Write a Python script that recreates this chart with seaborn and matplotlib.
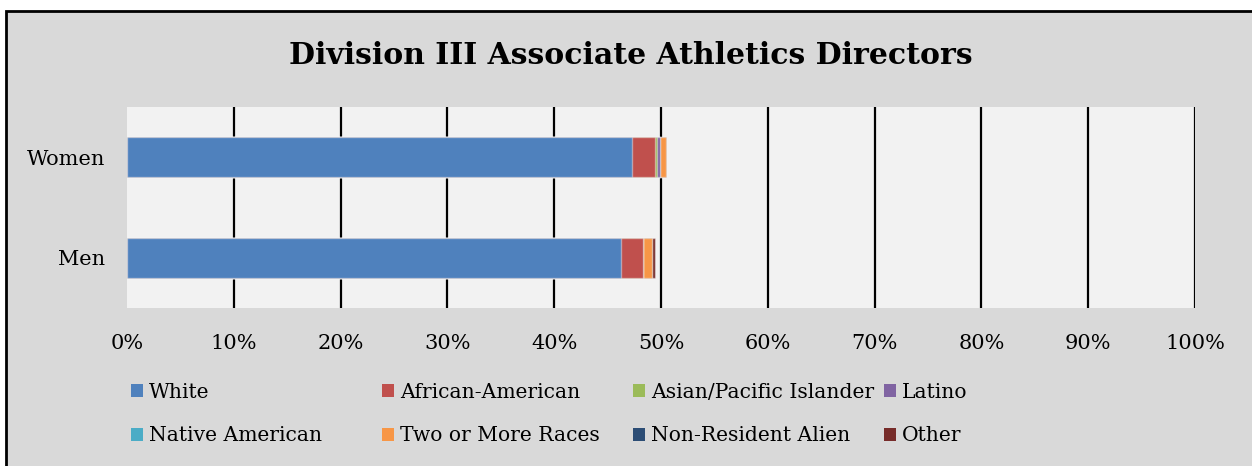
import numpy as np
import pandas as pd
import matplotlib
matplotlib.use("Agg")
import matplotlib.pyplot as plt
from matplotlib.patches import Rectangle, Patch
import seaborn as sns

groups = ["Women", "Men"]
races = ["White", "African-American", "Asian/Pacific Islander", "Latino",
         "Native American", "Two or More Races", "Non-Resident Alien", "Other"]
women_pct = [47.3, 2.1, 0.25, 0.25, 0.0, 0.55, 0.0, 0.0]
men_pct = [46.25, 2.05, 0.0, 0.0, 0.0, 0.85, 0.0, 0.3]
colors = ["#4F81BD", "#C0504D", "#9BBB59", "#8064A2",
          "#4BACC6", "#F79646", "#2C4D75", "#772C2A"]
tick_vals = [0, 10, 20, 30, 40, 50, 60, 70, 80, 90, 100]
title = "Division III Associate Athletics Directors"

sns.set_theme(style="white")
plt.rcParams["font.family"] = ["DejaVu Serif"]
plt.rcParams["text.color"] = "black"
plt.rcParams["xtick.color"] = "black"
plt.rcParams["ytick.color"] = "black"

W, H = 1252, 466
fig = plt.figure(figsize=(W / 100, H / 100), dpi=100, facecolor="white")

# outer chart frame
fig.patches.append(Rectangle((6 / W, -0.1), 1.2, 1 - 11 / H + 0.1,
                             transform=fig.transFigure, facecolor="#D9D9D9",
                             edgecolor="black", linewidth=2, zorder=-5))

ax = fig.add_axes([127 / W, 1 - 308 / H, (1195 - 127) / W, (308 - 107) / H])
ax.set_facecolor("#F2F2F2")

df = pd.DataFrame({"group": groups})
cum = np.zeros(len(groups))
cums = []
for i in range(len(races)):
    cum = cum + np.array([women_pct[i], men_pct[i]])
    cums.append(cum.copy())

for i in reversed(range(len(races))):
    df["val"] = cums[i]
    sns.barplot(data=df, x="val", y="group", orient="h", color=colors[i],
                saturation=1, width=0.4, edgecolor=(1, 1, 1, 0.4),
                linewidth=1, ax=ax, zorder=3)

ax.set_xlim(0, 100)
ax.set_ylim(1.5, -0.5)
ax.set_xticks(tick_vals)
ax.set_xticklabels([f"{v}%" for v in tick_vals], fontsize=15)
ax.tick_params(axis="x", pad=19, length=0)
ax.tick_params(axis="y", pad=16, length=0, labelsize=15)
ax.set_xlabel("")
ax.set_ylabel("")
ax.xaxis.grid(True, color="black", linewidth=1.6, zorder=1)
ax.set_axisbelow(True)
ax.xaxis.get_gridlines()[0].set_visible(False)
for s in ax.spines.values():
    s.set_visible(False)

fig.text(631 / W, 1 - 55 / H, title, ha="center", va="center",
         fontsize=21.5, fontweight="bold", color="black")

col_x = [131, 382, 633, 884]
for c in range(4):
    hs = [Patch(facecolor=colors[c], edgecolor="none"),
          Patch(facecolor=colors[c + 4], edgecolor="none")]
    fig.legend(hs, [races[c], races[c + 4]], loc="upper left",
               bbox_to_anchor=(col_x[c] / W, 1 - 383 / H), frameon=False,
               fontsize=14.6, handlelength=0.6, handleheight=0.6,
               handletextpad=0.3, labelspacing=1.2, borderaxespad=0,
               borderpad=0)

fig.savefig("out.png", dpi=100, facecolor="white")
